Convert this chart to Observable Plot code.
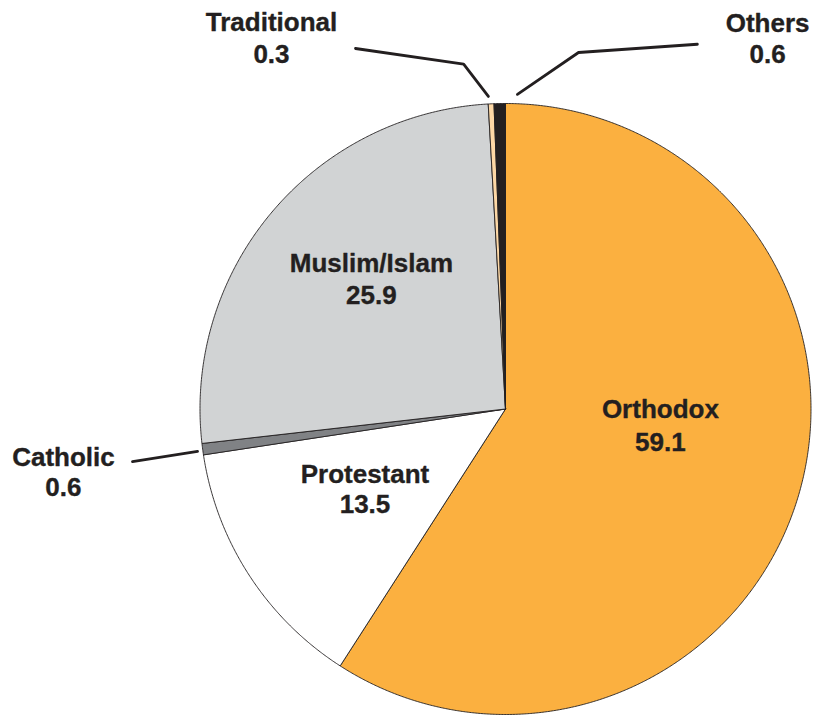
<!DOCTYPE html>
<html>
<head>
<meta charset="utf-8">
<script src="https://cdn.jsdelivr.net/npm/d3@7"></script>
<script src="https://cdn.jsdelivr.net/npm/@observablehq/plot@0.6"></script>
<style>
  html, body { margin: 0; padding: 0; background: #ffffff; }
  #chart svg { display: block; }
</style>
</head>
<body>
<div id="chart"></div>
<script>
// ---- Data ----
const religions = ["Orthodox", "Protestant", "Catholic", "Muslim/Islam", "Traditional", "Others"];
const shares = [59.1, 13.5, 0.6, 25.9, 0.3, 0.6];
const sliceColors = ["#fbb040", "#ffffff", "#808285", "#d1d3d4", "#fdd8a6", "#231f20"];

// ---- Layout (in pie-radius units; centre of pie = 0,0) ----
const R = 305.5, CX = 505, CY = 408.5, W = 813, H = 715;
const labelAnchors = {
  "Orthodox":     {x: 0.507,  y1: -0.031, y2: -0.139},
  "Protestant":   {x: -0.460, y1: -0.241, y2: -0.342},
  "Catholic":     {x: -1.447, y1: -0.185, y2: -0.286},
  "Muslim/Islam": {x: -0.439, y1: 0.447,  y2: 0.345},
  "Traditional":  {x: -0.766, y1: 1.236,  y2: 1.131},
  "Others":       {x: 0.858,  y1: 1.233,  y2: 1.131}
};
const leaders = {
  "Traditional": [[-0.491, 1.180], [-0.137, 1.129], [-0.056, 1.023]],
  "Others":      [[0.039, 1.030], [0.239, 1.167], [0.628, 1.194]],
  "Catholic":    [[-1.221, -0.172], [-1.008, -0.139]]
};

// ---- Build slice polygons from the data via d3.pie ----
const arcs = d3.pie().sort(null).value(d => d.value)(
  religions.map((name, i) => ({name, value: shares[i]}))
);
const sliceRows = [];
for (const a of arcs) {
  const name = a.data.name;
  sliceRows.push({name, x: 0, y: 0});
  const n = Math.max(2, Math.ceil((a.endAngle - a.startAngle) / 0.005));
  for (let k = 0; k <= n; k++) {
    const t = a.startAngle + (a.endAngle - a.startAngle) * k / n;
    sliceRows.push({name, x: Math.sin(t), y: Math.cos(t)});
  }
  sliceRows.push({name, x: 0, y: 0});
}

const leaderRows = [];
for (const [id, pts] of Object.entries(leaders)) {
  for (const [x, y] of pts) leaderRows.push({id, x, y});
}

const fmt = d3.format(".1f");
const nameRows = religions.map(name => ({x: labelAnchors[name].x, y: labelAnchors[name].y1, text: name}));
const valueRows = religions.map((name, i) => ({x: labelAnchors[name].x, y: labelAnchors[name].y2, text: fmt(shares[i])}));

const textOpts = {
  x: "x", y: "y", text: "text",
  fontSize: 26, fontWeight: "bold", fill: "#231f20",
  stroke: "#231f20", strokeWidth: 0.35,
  textAnchor: "middle", lineAnchor: "bottom",
  fontFamily: "'Liberation Sans', Arial, Helvetica, sans-serif"
};

const chart = Plot.plot({
  width: W,
  height: H,
  margin: 0,
  style: {background: "#ffffff"},
  x: {domain: [-CX / R, (W - CX) / R], axis: null},
  y: {domain: [-(H - CY) / R, CY / R], axis: null},
  color: {domain: religions, range: sliceColors},
  marks: [
    Plot.line(sliceRows, {
      x: "x", y: "y", z: "name", fill: "name",
      stroke: "#231f20", strokeWidth: 0.9, strokeLinejoin: "round",
      curve: "linear-closed"
    }),
    Plot.line(leaderRows, {
      x: "x", y: "y", z: "id",
      stroke: "#231f20", strokeWidth: 2.8, strokeLinejoin: "miter"
    }),
    Plot.text(nameRows, textOpts),
    Plot.text(valueRows, textOpts)
  ]
});
document.getElementById("chart").appendChild(chart);
</script>
</body>
</html>
